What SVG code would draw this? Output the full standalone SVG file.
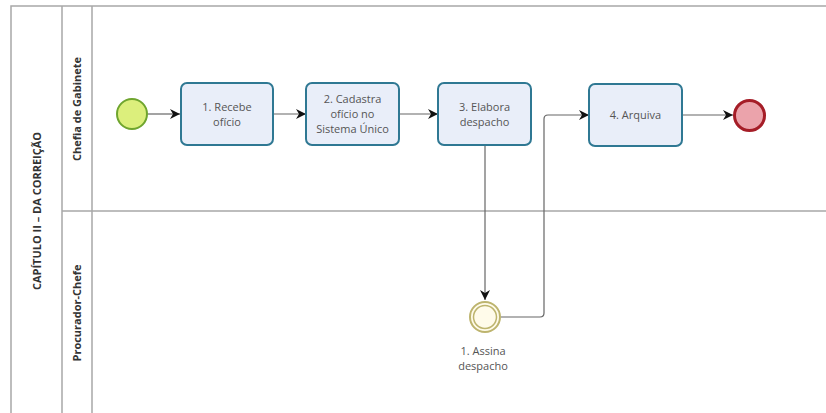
<svg xmlns="http://www.w3.org/2000/svg" width="826" height="413" viewBox="0 0 826 413">
<defs>
<style>
.lane{fill:none;stroke:#a8a8a8;stroke-width:1.5}
.lbl{font-family:"Open Sans","Liberation Sans",sans-serif;font-weight:bold;font-size:11px;fill:#333;text-anchor:middle}
.task{fill:#e9eef9;stroke:#2f7893;stroke-width:2}
.tt{font-family:"Open Sans","Liberation Sans",sans-serif;font-size:11px;fill:#555;text-anchor:middle}
.flow{fill:none;stroke:#666;stroke-width:1.2}
</style>
<marker id="arr" viewBox="0 0 10 10" refX="10" refY="5" markerWidth="10" markerHeight="10" markerUnits="userSpaceOnUse" orient="auto">
<path d="M0,0 L10,5 L0,10 L3,5 Z" fill="#111"/>
</marker>
</defs>
<rect width="826" height="413" fill="#fff"/>
<g id="pool">
<path class="lane" d="M826,6 H11 V413 M62,6 V413 M92,6 V413 M62,211 H826"/>
<text class="lbl" transform="translate(41,211) rotate(-90)">CAPÍTULO II – DA CORREIÇÃO</text>
</g>
<g id="lane-chefia"><text class="lbl" transform="translate(81,109) rotate(-90)">Chefia de Gabinete</text></g>
<g id="lane-procurador"><text class="lbl" transform="translate(81,313) rotate(-90)">Procurador-Chefe</text></g>
<g id="connectors">
<path class="flow" d="M148,114 H180" marker-end="url(#arr)"/>
<path class="flow" d="M273,114 H306" marker-end="url(#arr)"/>
<path class="flow" d="M399,114 H438" marker-end="url(#arr)"/>
<path class="flow" d="M485,145 V300" marker-end="url(#arr)"/>
<path class="flow" d="M501,317 H540 Q544,317 544,313 V119 Q544,115 548,115 H589" marker-end="url(#arr)"/>
<path class="flow" d="M682,115 H733" marker-end="url(#arr)"/>
</g>
<g id="start"><circle cx="132" cy="114" r="15" fill="#dcef7c" stroke="#6fa52e" stroke-width="2"/></g>
<g id="task1"><rect class="task" x="181" y="83" width="92" height="62" rx="6"/><text class="tt" x="227" y="111">1. Recebe</text><text class="tt" x="227" y="126">ofício</text></g>
<g id="task2"><rect class="task" x="306" y="83" width="93" height="62" rx="6"/><text class="tt" x="352.5" y="103">2. Cadastra</text><text class="tt" x="352.5" y="118">ofício no</text><text class="tt" x="352.5" y="133">Sistema Único</text></g>
<g id="task3"><rect class="task" x="438" y="83" width="93" height="62" rx="6"/><text class="tt" x="484.5" y="111">3. Elabora</text><text class="tt" x="484.5" y="126">despacho</text></g>
<g id="task4"><rect class="task" x="589" y="84" width="93" height="62" rx="6"/><text class="tt" x="635.5" y="119">4. Arquiva</text></g>
<g id="end"><circle cx="749.5" cy="115.5" r="15" fill="#eba3ab" stroke="#a51d27" stroke-width="3"/></g>
<g id="intermediate">
<circle cx="485" cy="317" r="15" fill="#fffbea" stroke="#bdb46e" stroke-width="2"/>
<circle cx="485" cy="317" r="11.5" fill="none" stroke="#bdb46e" stroke-width="1.5"/>
<text class="tt" x="483" y="355">1. Assina</text><text class="tt" x="483" y="370">despacho</text>
</g>
</svg>
